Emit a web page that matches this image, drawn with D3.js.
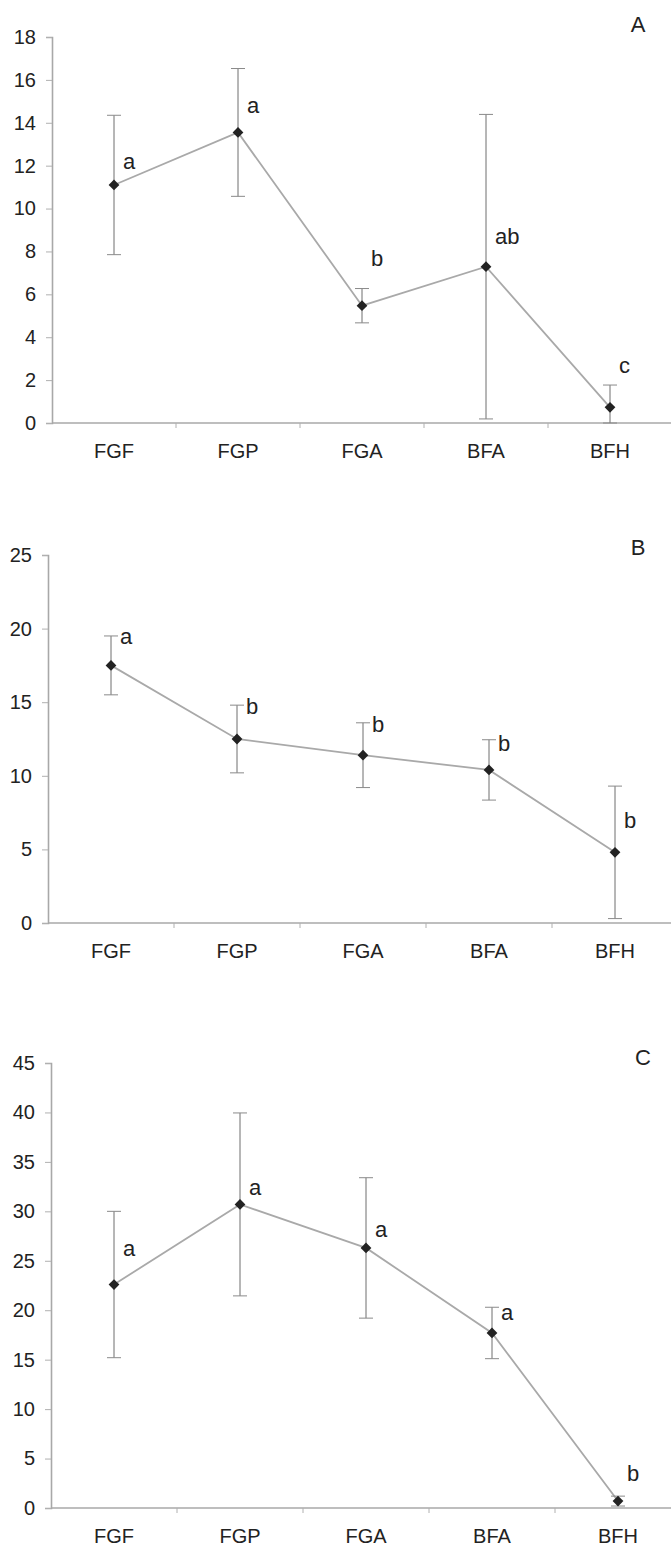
<!DOCTYPE html>
<html>
<head>
<meta charset="utf-8">
<script src="https://cdn.jsdelivr.net/npm/d3@7"></script>
<style>
  body { margin: 0; background: #fff; }
  text { font-family: "Liberation Sans", Arial, sans-serif; fill: #222; }
</style>
</head>
<body>
<svg id="chart" width="671" height="1551"></svg>
<script>
var sites = ["FGF", "FGP", "FGA", "BFA", "BFH"];

// panel A
var meanA = [11.1, 13.55, 5.47, 7.29, 0.73];
var errA = [3.25, 2.98, 0.8, 7.1, 1.04];
var letterA = ["a", "a", "b", "ab", "c"];
var letterPosA = [12.2, 14.8, 7.7, 8.7, 2.7];

// panel B
var meanB = [17.5, 12.5, 11.4, 10.4, 4.8];
var errB = [2.0, 2.3, 2.2, 2.05, 4.5];
var letterB = ["a", "b", "b", "b", "b"];
var letterPosB = [19.5, 14.7, 13.5, 12.2, 7.0];

// panel C
var meanC = [22.6, 30.7, 26.3, 17.7, 0.7];
var errC = [7.4, 9.25, 7.1, 2.6, 0.5];
var letterC = ["a", "a", "a", "a", "b"];
var letterPosC = [26.3, 32.4, 28.2, 19.8, 3.5];

var svg = d3.select("#chart");

var panels = [
  {name: "A", mean: meanA, err: errA, letters: letterA, letterPos: letterPosA,
   max: 18, step: 2, left: 52, top: 37, bottom: 423, band: 124, labelY: 452, tagX: 638, tagY: 24},
  {name: "B", mean: meanB, err: errB, letters: letterB, letterPos: letterPosB,
   max: 25, step: 5, left: 48, top: 555, bottom: 923, band: 126, labelY: 957, tagX: 638, tagY: 547},
  {name: "C", mean: meanC, err: errC, letters: letterC, letterPos: letterPosC,
   max: 45, step: 5, left: 51, top: 1063, bottom: 1508, band: 126, labelY: 1539, tagX: 643, tagY: 1057}
];

panels.forEach(drawPanel);

function drawPanel(p) {
  var x = d3.scaleBand().domain(sites).range([p.left, p.left + p.band * sites.length]);
  var y = d3.scaleLinear().domain([0, p.max]).range([p.bottom, p.top]);
  var g = svg.append("g");

  // y axis
  var yAxis = g.append("g")
      .attr("transform", "translate(" + p.left + ",0)")
      .call(d3.axisLeft(y).tickValues(d3.range(0, p.max + 0.01, p.step)).tickSize(6).tickPadding(10));
  yAxis.select(".domain").attr("stroke", "#a8a8a8").attr("stroke-width", 1.6);
  yAxis.selectAll(".tick line").attr("stroke", "#b0b0b0");
  yAxis.selectAll(".tick text").style("font-size", "20px").attr("fill", "#222");

  // x axis
  var xAxis = g.append("g")
      .attr("transform", "translate(0," + p.bottom + ")")
      .call(d3.axisBottom(x).tickSize(0).tickPadding(21));
  xAxis.select(".domain").attr("d", "M" + p.left + ",0H671").attr("stroke", "#a8a8a8").attr("stroke-width", 1.4);
  xAxis.selectAll(".tick text").style("font-size", "20px").attr("fill", "#222");
  xAxis.selectAll(".bnd")
      .data(sites.slice(1))
      .enter().append("line")
      .attr("x1", function(d) { return x(d); })
      .attr("x2", function(d) { return x(d); })
      .attr("y1", 0).attr("y2", 5)
      .attr("stroke", "#b0b0b0");

  var cx = function(i) { return x(sites[i]) + x.bandwidth() / 2; };

  // connecting line
  var line = d3.line()
      .x(function(d, i) { return cx(i); })
      .y(function(d) { return y(d); });
  g.append("path")
      .datum(p.mean)
      .attr("d", line)
      .attr("fill", "none")
      .attr("stroke", "#a9a9a9")
      .attr("stroke-width", 1.8);

  // error bars
  var eb = g.selectAll(".eb").data(p.mean).enter().append("g");
  eb.append("line")
      .attr("x1", function(d, i) { return cx(i); })
      .attr("x2", function(d, i) { return cx(i); })
      .attr("y1", function(d, i) { return y(d + p.err[i]); })
      .attr("y2", function(d, i) { return y(Math.max(0, d - p.err[i])); })
      .attr("stroke", "#6f6f6f").attr("stroke-width", 1);
  [1, -1].forEach(function(s) {
    eb.append("line")
        .attr("x1", function(d, i) { return cx(i) - 7; })
        .attr("x2", function(d, i) { return cx(i) + 7; })
        .attr("y1", function(d, i) { return y(Math.max(0, d + s * p.err[i])); })
        .attr("y2", function(d, i) { return y(Math.max(0, d + s * p.err[i])); })
        .attr("stroke", "#8a8a8a").attr("stroke-width", 1);
  });

  // markers
  g.selectAll(".pt").data(p.mean).enter().append("path")
      .attr("d", d3.symbol().type(d3.symbolSquare).size(58))
      .attr("transform", function(d, i) { return "translate(" + cx(i) + "," + y(d) + ") rotate(45)"; })
      .attr("fill", "#222");

  // significance letters
  g.selectAll(".lt").data(p.letters).enter().append("text")
      .attr("x", function(d, i) { return cx(i) + 9; })
      .attr("y", function(d, i) { return y(p.letterPos[i]); })
      .attr("dy", "0.35em")
      .style("font-size", "22px")
      .text(function(d) { return d; });

  g.append("text")
      .attr("x", p.tagX).attr("y", p.tagY).attr("dy", "0.35em")
      .attr("text-anchor", "middle")
      .style("font-size", "22px")
      .text(p.name);
}
</script>
</body>
</html>
